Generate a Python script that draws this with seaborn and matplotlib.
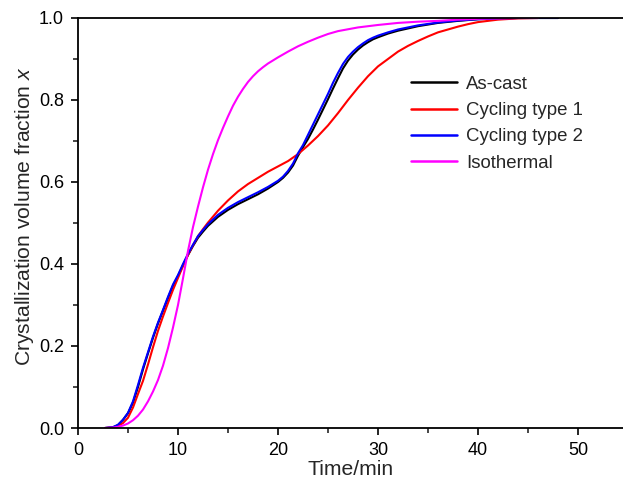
import numpy as np
import pandas as pd
import matplotlib
matplotlib.use("Agg")
import matplotlib.pyplot as plt
import seaborn as sns
from matplotlib.ticker import MultipleLocator

# ---- data ----
t_ascast = [2.7, 3.5, 4.0, 4.5, 5.0, 5.5, 6.0, 6.5, 7.0, 7.5, 8.0, 8.5, 9.0, 9.5, 10, 10.5, 11, 11.5, 12, 12.5, 13, 14, 15, 16, 17, 18, 19, 20, 20.5, 21, 21.5, 22, 22.5, 23, 23.5, 24, 24.5, 25, 25.5, 26, 26.5, 27, 27.5, 28, 28.5, 29, 29.5, 30, 31, 32, 34, 36, 38, 40, 42, 44, 46, 48]
x_ascast = [0.0, 0.002, 0.007, 0.02, 0.036, 0.062, 0.1, 0.143, 0.182, 0.22, 0.255, 0.286, 0.317, 0.347, 0.371, 0.397, 0.422, 0.444, 0.464, 0.479, 0.493, 0.515, 0.532, 0.546, 0.558, 0.57, 0.584, 0.6, 0.61, 0.623, 0.64, 0.664, 0.685, 0.705, 0.728, 0.752, 0.777, 0.802, 0.828, 0.853, 0.877, 0.896, 0.911, 0.923, 0.933, 0.941, 0.948, 0.953, 0.962, 0.969, 0.98, 0.988, 0.993, 0.997, 0.999, 1.0, 1.0, 1.0]

t_cyc1 = [2.7, 3.5, 4.0, 4.5, 5.0, 5.5, 6.0, 6.5, 7.0, 7.5, 8.0, 8.5, 9.0, 9.5, 10, 10.5, 11, 11.5, 12, 12.5, 13, 14, 15, 16, 17, 18, 19, 20, 21, 22, 23, 24, 25, 26, 27, 28, 29, 30, 31, 32, 33, 34, 35, 36, 37, 38, 39, 40, 42, 44, 46]
x_cyc1 = [0.0, 0.001, 0.005, 0.012, 0.025, 0.05, 0.083, 0.115, 0.155, 0.197, 0.237, 0.272, 0.305, 0.337, 0.366, 0.395, 0.422, 0.446, 0.468, 0.485, 0.501, 0.53, 0.555, 0.577, 0.595, 0.61, 0.625, 0.638, 0.651, 0.668, 0.689, 0.712, 0.738, 0.768, 0.8, 0.83, 0.858, 0.882, 0.9, 0.918, 0.932, 0.944, 0.955, 0.965, 0.972, 0.979, 0.985, 0.99, 0.996, 0.999, 1.0]

t_cyc2 = [2.7, 3.5, 4.0, 4.5, 5.0, 5.5, 6.0, 6.5, 7.0, 7.5, 8.0, 8.5, 9.0, 9.5, 10, 10.5, 11, 11.5, 12, 12.5, 13, 14, 15, 16, 17, 18, 19, 20, 20.5, 21, 21.5, 22, 22.5, 23, 23.5, 24, 24.5, 25, 25.5, 26, 26.5, 27, 27.5, 28, 28.5, 29, 29.5, 30, 31, 32, 34, 36, 38, 40, 42, 44, 46, 48]
x_cyc2 = [0.0, 0.002, 0.008, 0.02, 0.037, 0.065, 0.105, 0.147, 0.185, 0.223, 0.257, 0.288, 0.32, 0.35, 0.373, 0.4, 0.425, 0.447, 0.468, 0.483, 0.497, 0.52, 0.537, 0.551, 0.563, 0.575, 0.588, 0.603, 0.613, 0.627, 0.645, 0.67, 0.69, 0.715, 0.74, 0.765, 0.79, 0.815, 0.842, 0.866, 0.888, 0.905, 0.918, 0.929, 0.938, 0.946, 0.952, 0.957, 0.965, 0.972, 0.982, 0.989, 0.994, 0.997, 0.999, 1.0, 1.0, 1.0]

t_iso = [2.7, 3.5, 4.0, 4.5, 5.0, 5.5, 6.0, 6.5, 7.0, 7.5, 8.0, 8.5, 9.0, 9.5, 10, 10.5, 11, 11.5, 12, 12.5, 13, 13.5, 14, 14.5, 15, 15.5, 16, 16.5, 17, 17.5, 18, 18.5, 19, 20, 21, 22, 23, 24, 25, 26, 28, 30, 32, 34, 36, 38, 40, 42, 44, 46]
x_iso = [0.0, 0.001, 0.003, 0.006, 0.011, 0.019, 0.03, 0.045, 0.065, 0.089, 0.117, 0.152, 0.195, 0.245, 0.3, 0.365, 0.432, 0.49, 0.54, 0.587, 0.63, 0.668, 0.702, 0.732, 0.76, 0.786, 0.808, 0.827, 0.844, 0.858, 0.87, 0.88, 0.889, 0.904, 0.918, 0.931, 0.942, 0.952, 0.961, 0.968, 0.977, 0.983, 0.988, 0.991, 0.993, 0.996, 0.998, 0.999, 1.0, 1.0]

labels = ["As-cast", "Cycling type 1", "Cycling type 2", "Isothermal"]
colors = ["#000000", "#ff0000", "#0000ff", "#ff00ff"]

frames = []
for lab, t, x in zip(labels, [t_ascast, t_cyc1, t_cyc2, t_iso], [x_ascast, x_cyc1, x_cyc2, x_iso]):
    frames.append(pd.DataFrame({"t": t, "x": x, "series": lab}))
df = pd.concat(frames, ignore_index=True)

sns.set_style("ticks")
plt.rcParams["font.family"] = ["Liberation Sans", "DejaVu Sans"]
plt.rcParams["mathtext.fontset"] = "custom"
plt.rcParams["mathtext.it"] = "Liberation Sans:italic"
plt.rcParams["mathtext.rm"] = "Liberation Sans"

fig = plt.figure(figsize=(6.23, 4.86), dpi=100)
ax = fig.add_axes([78 / 623, (486 - 428) / 486, 545 / 623, 410 / 486])

sns.lineplot(data=df, x="t", y="x", hue="series", hue_order=labels,
             palette=dict(zip(labels, colors)), linewidth=1.5, ax=ax,
             estimator=None, sort=True)

ax.set_xlim(0, 54.5)
ax.set_ylim(0, 1.0)
ax.xaxis.set_major_locator(MultipleLocator(10))
ax.xaxis.set_minor_locator(MultipleLocator(5))
ax.yaxis.set_major_locator(MultipleLocator(0.2))
ax.yaxis.set_minor_locator(MultipleLocator(0.1))
ax.yaxis.set_major_formatter(matplotlib.ticker.FormatStrFormatter("%.1f"))

ax.tick_params(which="major", direction="out", length=5, width=1.2, labelsize=13, colors="black", pad=5)
ax.tick_params(which="minor", direction="out", length=3.5, width=1.2)
for s in ["left", "bottom", "top"]:
    ax.spines[s].set_visible(True)
    ax.spines[s].set_linewidth(1.3)
    ax.spines[s].set_color("black")
ax.spines["right"].set_visible(False)

ax.set_xlabel("Time/min", fontsize=15.2, labelpad=1)
ax.set_ylabel("Crystallization volume fraction $x$", fontsize=15.2, labelpad=2)
ax.yaxis.label.set_y(0.517)

leg = ax.legend(loc="upper left", bbox_to_anchor=(0.58, 0.90), frameon=False,
                fontsize=13.4, handlelength=2.5, handletextpad=0.45, labelspacing=0.5)
for h in leg.get_lines():
    h.set_linewidth(1.8)

fig.savefig("out.png", dpi=100)
